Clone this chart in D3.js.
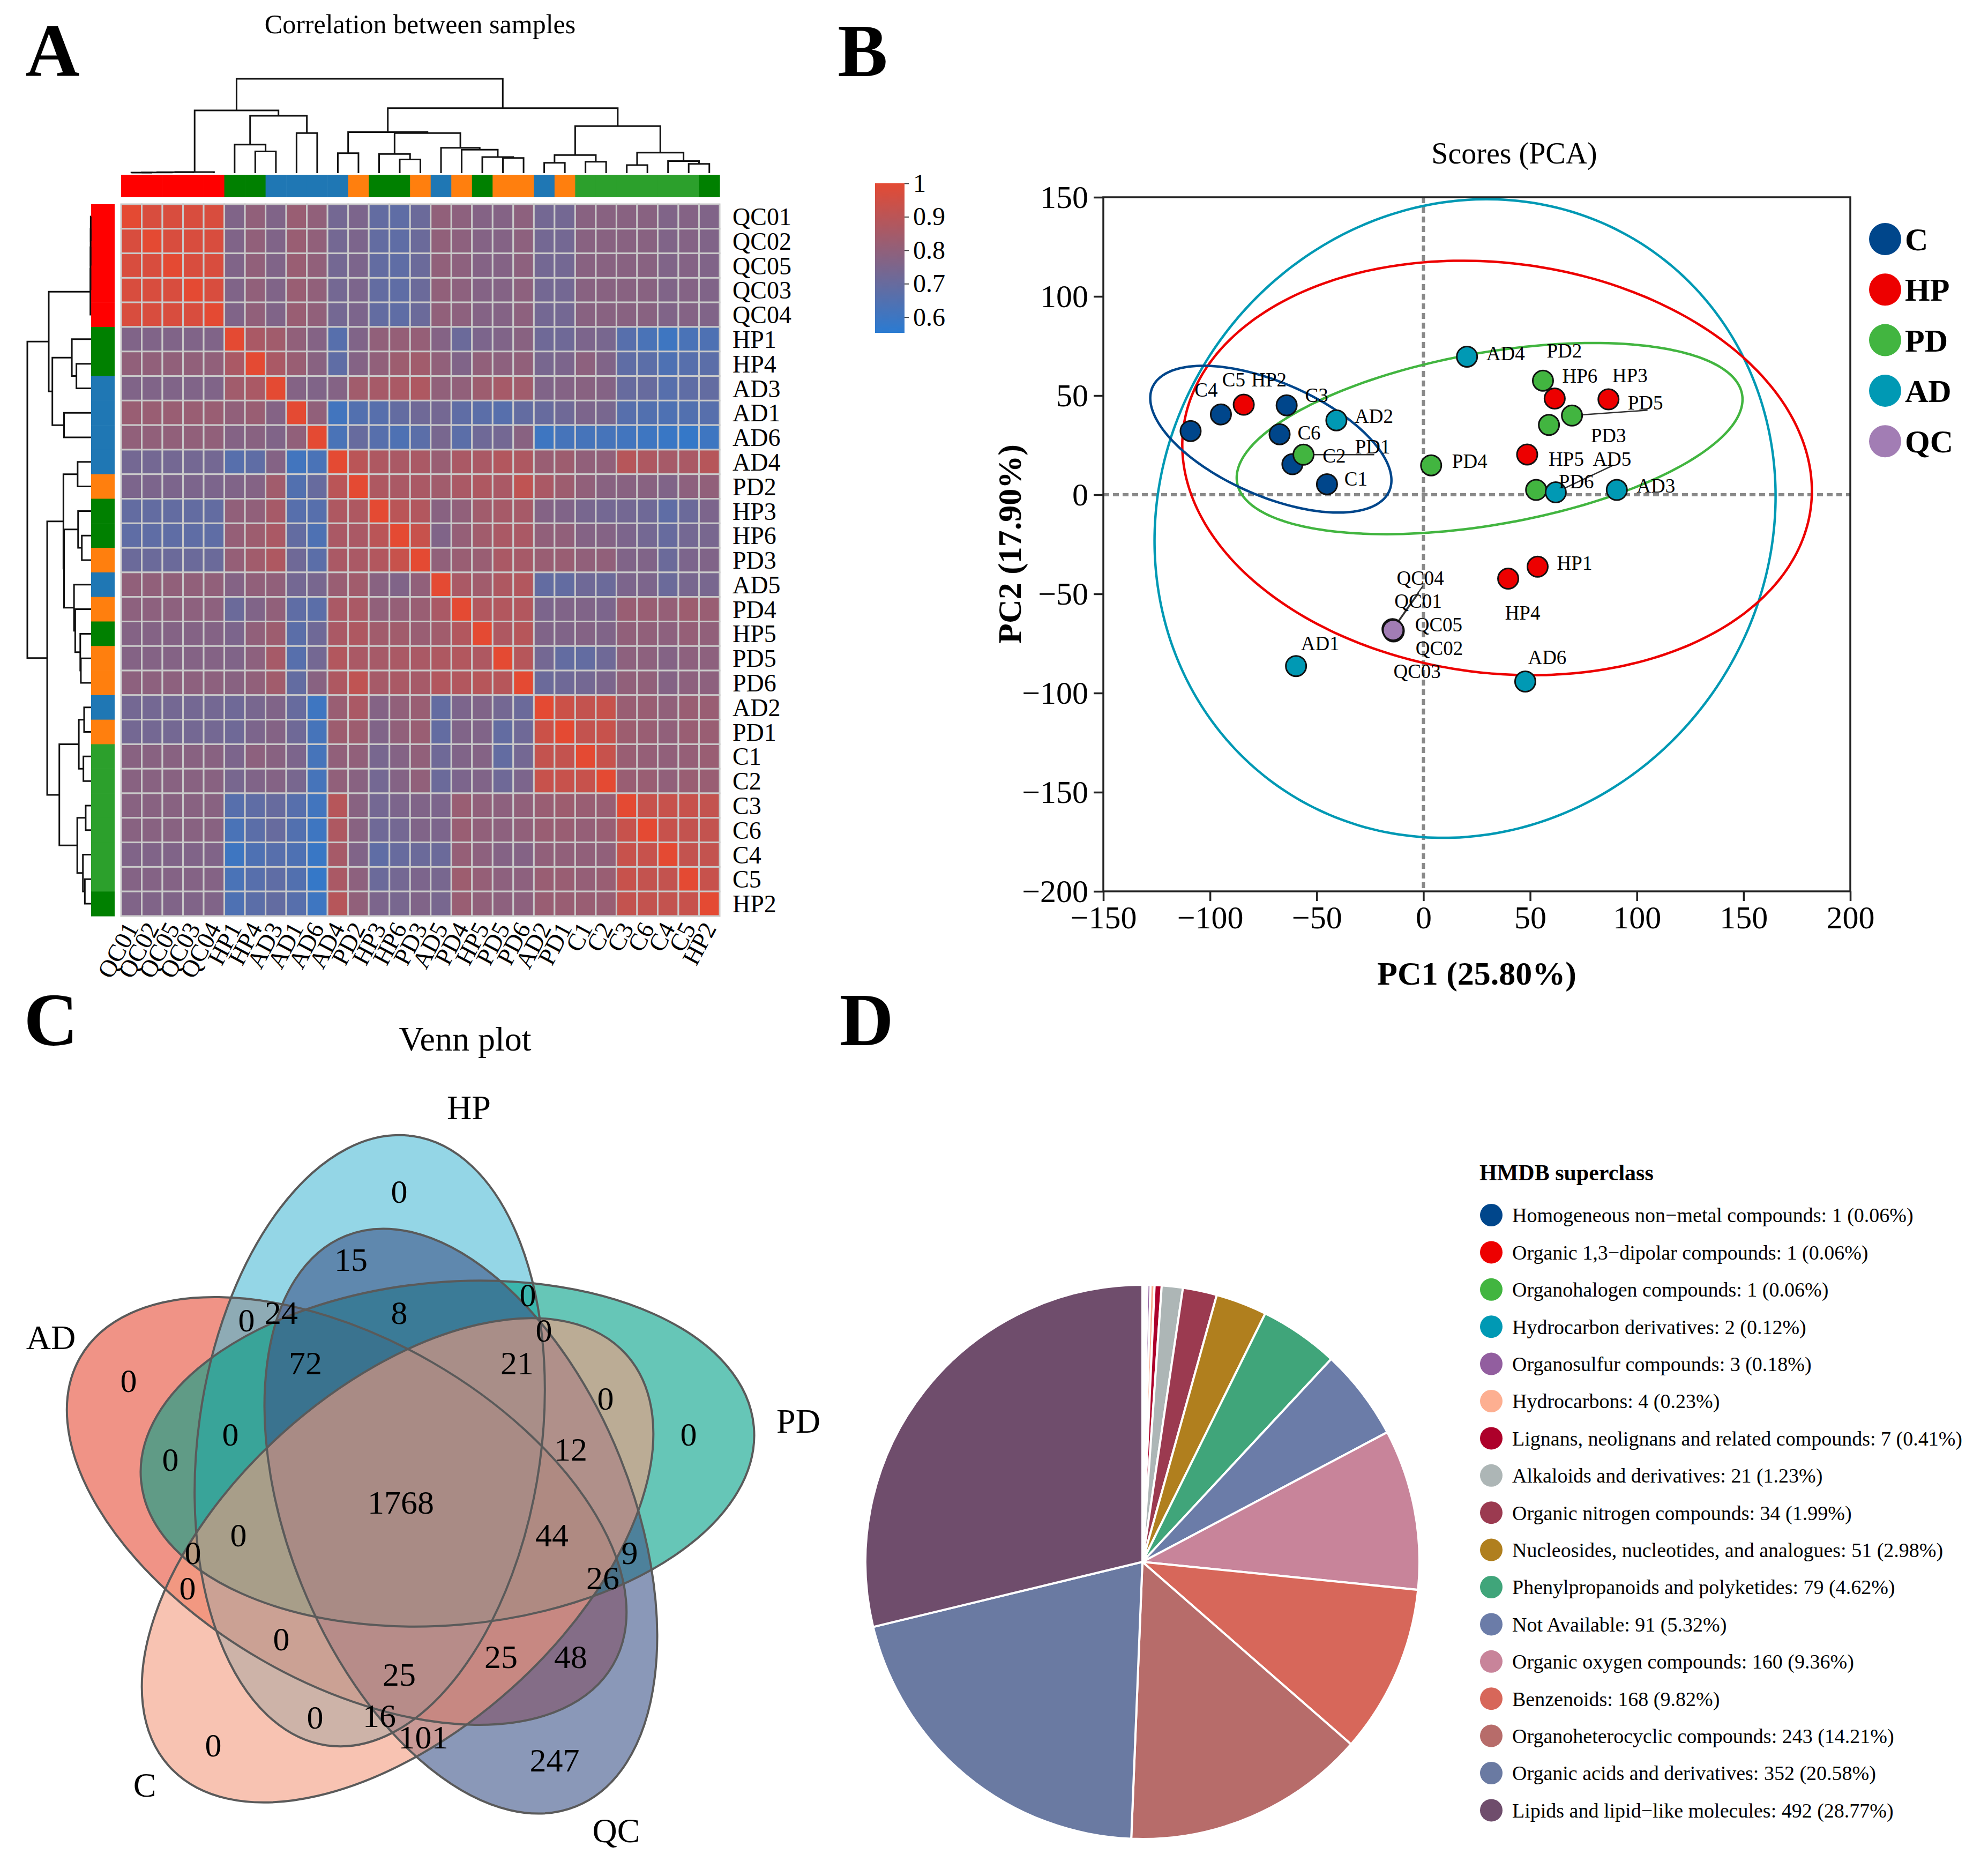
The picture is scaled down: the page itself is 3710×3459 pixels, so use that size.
<!DOCTYPE html>
<html>
<head>
<meta charset="utf-8">
<script src="https://cdn.jsdelivr.net/npm/d3@7"></script>
<style>
  body { margin: 0; background: #fff; }
  svg { display: block; }
  text { font-family: "Liberation Serif", "Times New Roman", serif; fill: #000; }
</style>
</head>
<body>
<svg id="fig"></svg>
<script>
// ================= data =================

// A: correlation between samples (clustered order)
const samples = ["QC01","QC02","QC05","QC03","QC04","HP1","HP4","AD3","AD1","AD6","AD4","PD2","HP3","HP6","PD3",
                 "AD5","PD4","HP5","PD5","PD6","AD2","PD1","C1","C2","C3","C6","C4","C5","HP2"];
const sampleGroup = ["QC","QC","QC","QC","QC","HP","HP","AD","AD","AD","AD","PD","HP","HP","PD",
                     "AD","PD","HP","PD","PD","AD","PD","C","C","C","C","C","C","HP"];
// lower triangle, row i holds columns 0..i-1 (diagonal is 1)
const corrLower = [
  [],
  [0.97],
  [0.97,0.97],
  [0.97,0.97,0.97],
  [0.97,0.97,0.97,0.97],
  [0.76,0.76,0.76,0.76,0.76],
  [0.80,0.80,0.80,0.80,0.80,0.86],
  [0.76,0.76,0.76,0.76,0.76,0.84,0.86],
  [0.82,0.82,0.82,0.82,0.82,0.80,0.82,0.77],
  [0.80,0.80,0.80,0.80,0.80,0.77,0.78,0.76,0.80],
  [0.73,0.73,0.73,0.73,0.73,0.66,0.68,0.77,0.61,0.63],
  [0.75,0.75,0.75,0.75,0.75,0.76,0.77,0.84,0.65,0.70,0.90],
  [0.69,0.69,0.69,0.69,0.69,0.80,0.80,0.85,0.66,0.66,0.87,0.87],
  [0.68,0.68,0.68,0.68,0.68,0.81,0.83,0.86,0.69,0.64,0.86,0.86,0.90],
  [0.71,0.71,0.71,0.71,0.71,0.81,0.84,0.87,0.72,0.67,0.86,0.86,0.88,0.93],
  [0.80,0.80,0.80,0.80,0.80,0.77,0.80,0.80,0.73,0.74,0.82,0.84,0.78,0.76,0.80],
  [0.79,0.79,0.79,0.79,0.79,0.71,0.76,0.80,0.68,0.67,0.86,0.86,0.80,0.81,0.82,0.86],
  [0.77,0.77,0.77,0.77,0.77,0.75,0.80,0.83,0.67,0.72,0.86,0.87,0.84,0.84,0.82,0.84,0.88],
  [0.77,0.77,0.77,0.77,0.77,0.76,0.79,0.85,0.66,0.73,0.88,0.86,0.85,0.86,0.86,0.87,0.88,0.87],
  [0.79,0.79,0.79,0.79,0.79,0.78,0.80,0.84,0.69,0.78,0.87,0.91,0.85,0.86,0.85,0.88,0.88,0.89,0.89],
  [0.73,0.73,0.73,0.73,0.73,0.72,0.74,0.76,0.70,0.60,0.82,0.86,0.77,0.80,0.82,0.69,0.75,0.76,0.73,0.71],
  [0.73,0.73,0.73,0.73,0.73,0.72,0.75,0.77,0.72,0.62,0.83,0.83,0.76,0.80,0.82,0.69,0.76,0.76,0.69,0.72,0.94],
  [0.78,0.78,0.78,0.78,0.78,0.75,0.79,0.78,0.75,0.62,0.80,0.80,0.74,0.77,0.80,0.72,0.76,0.77,0.69,0.73,0.92,0.92],
  [0.78,0.78,0.78,0.78,0.78,0.74,0.76,0.77,0.74,0.62,0.80,0.78,0.73,0.77,0.80,0.71,0.75,0.76,0.72,0.75,0.93,0.93,0.93],
  [0.78,0.78,0.78,0.78,0.78,0.66,0.68,0.70,0.66,0.61,0.89,0.78,0.73,0.75,0.76,0.75,0.82,0.80,0.79,0.80,0.82,0.83,0.82,0.82],
  [0.78,0.78,0.78,0.78,0.78,0.63,0.67,0.70,0.65,0.60,0.87,0.78,0.72,0.73,0.76,0.75,0.82,0.80,0.79,0.80,0.82,0.82,0.81,0.82,0.93],
  [0.76,0.76,0.76,0.76,0.76,0.60,0.64,0.66,0.64,0.59,0.85,0.76,0.68,0.70,0.71,0.71,0.81,0.79,0.77,0.77,0.80,0.80,0.80,0.80,0.93,0.93],
  [0.77,0.77,0.77,0.77,0.77,0.63,0.66,0.68,0.65,0.58,0.86,0.79,0.71,0.73,0.75,0.74,0.83,0.81,0.79,0.79,0.82,0.82,0.81,0.82,0.93,0.92,0.92],
  [0.76,0.76,0.76,0.76,0.76,0.64,0.67,0.69,0.66,0.60,0.89,0.80,0.75,0.74,0.76,0.74,0.82,0.80,0.79,0.79,0.82,0.82,0.82,0.82,0.92,0.92,0.92,0.93]
];
const legendTicks = [1, 0.9, 0.8, 0.7, 0.6];
// clustering tree: [merge height, left, right]
const sampleTree =
  [530,
    [352,
      [6, [5, [4, [3, "QC01", "QC02"], "QC05"], "QC03"], "QC04"],
      [322,
        [160, "HP1", [122, "HP4", "AD3"]],
        [225, "AD1", "AD6"]]],
    [365,
      [230,
        [112, "AD4", "PD2"],
        [225,
          [108, "HP3", [77, "HP6", "PD3"]],
          [142, "AD5", [132, "PD4", [90, "HP5", [85, "PD5", "PD6"]]]]]],
      [264,
        [102, [58, "AD2", "PD1"], [64, "C1", "C2"]],
        [115, [45, "C3", "C6"], [68, "C4", [52, "C5", "HP2"]]]]]];

// B: PCA scores
const pcaNames = ["C1","C2","C3","C4","C5","C6","HP1","HP2","HP3","HP4","HP5","HP6",
                  "PD1","PD2","PD3","PD4","PD5","PD6","AD1","AD2","AD3","AD4","AD5","AD6",
                  "QC01","QC02","QC03","QC04","QC05"];
const pcaGroup = ["C","C","C","C","C","C","HP","HP","HP","HP","HP","HP",
                  "PD","PD","PD","PD","PD","PD","AD","AD","AD","AD","AD","AD",
                  "QC","QC","QC","QC","QC"];
const pc1 = [-45.2,-61.4,-64.1,-109.1,-94.9,-67.4, 53.5,-84.2,86.7,39.7,48.6,61.5,
             -56.2,56.0,58.8,3.6,69.6,52.8, -59.7,-40.8,90.6,20.4,62.0,47.7,
             -14.3,-13.9,-14.0,-14.5,-14.2];
const pc2 = [5.3,15.4,45.1,32.1,40.5,30.5, -36.3,45.4,48.1,-42.3,20.3,48.5,
             20.2,57.5,35.2,14.8,39.9,2.4, -86.4,37.5,2.4,69.6,1.2,-94.2,
             -68.0,-68.6,-68.9,-67.8,-68.3];
const pcaGroups = ["C","HP","PD","AD","QC"];
const xTicks = [-150,-100,-50,0,50,100,150,200];
const yTicks = [-200,-150,-100,-50,0,50,100,150];
// group confidence ellipses (centre, half extents on PC1/PC2, correlation)
const ellGroup = ["AD","HP","PD","C"];
const ellCx  = [19.5, 34.5, 31.0, -71.5];
const ellCy  = [-12.0, 13.5, 28.3, 28.0];
const ellRx  = [145.5, 147.5, 118.5, 56.5];
const ellRy  = [161.0, 104.5, 48.2, 37.0];
const ellRho = [0.07, -0.11, 0.41, -0.56];

// C: Venn counts
const vennSets = ["HP","PD","QC","C","AD"];
const vennCounts = [0,15,0,24,0,8,0,0,72,21,0,0,0,0,12,1768,0,44,0,9,26,0,0,25,48,25,0,16,101,0,247];

// D: HMDB superclass
const hmdbClass = ["Homogeneous non\u2212metal compounds","Organic 1,3\u2212dipolar compounds","Organohalogen compounds",
  "Hydrocarbon derivatives","Organosulfur compounds","Hydrocarbons","Lignans, neolignans and related compounds",
  "Alkaloids and derivatives","Organic nitrogen compounds","Nucleosides, nucleotides, and analogues",
  "Phenylpropanoids and polyketides","Not Available","Organic oxygen compounds","Benzenoids",
  "Organoheterocyclic compounds","Organic acids and derivatives","Lipids and lipid\u2212like molecules"];
const hmdbCount = [1,1,1,2,3,4,7,21,34,51,79,91,160,168,243,352,492];

// ================= layout / style =================
const W = 3710, H = 3459;
const svg = d3.select("#fig").attr("width", W).attr("height", H);
svg.append("rect").attr("width", W).attr("height", H).attr("fill", "#fff");

// panel letters
svg.selectAll("text.panel").data([["A",98,142],["B",1610,142],["C",95,1950],["D",1617,1950]])
  .join("text").attr("class","panel")
  .attr("x", d => d[1]).attr("y", d => d[2]).attr("text-anchor","middle")
  .attr("font-size",140).attr("font-weight","bold").text(d => d[0]);

// ---------- A ----------
const gA = svg.append("g");
const annColor = {QC:"#FF0000", HP:"#008000", AD:"#1F77B4", PD:"#FF7F0E", C:"#2CA02C"};
const hx = d3.scaleBand().domain(samples).range([226, 1343]);
const hy = d3.scaleBand().domain(samples).range([381, 1709]);
const corrColor = d3.scaleLinear().domain([0.553, 1]).range(["#2a7bd2", "#e44a33"]).interpolate(d3.interpolateRgb);
const corrAt = (i, j) => i === j ? 1 : (i > j ? corrLower[i][j] : corrLower[j][i]);
const cells = [];
samples.forEach((r, i) => samples.forEach((c, j) => cells.push({r, c, v: corrAt(i, j)})));

gA.selectAll("rect.cell").data(cells).join("rect").attr("class","cell")
  .attr("x", d => hx(d.c)).attr("y", d => hy(d.r))
  .attr("width", hx.bandwidth()).attr("height", hy.bandwidth())
  .attr("fill", d => corrColor(d.v)).attr("stroke", "#c9c9c9").attr("stroke-width", 3);

// annotation bars
gA.selectAll("rect.cann").data(samples).join("rect").attr("class","cann")
  .attr("x", d => hx(d)).attr("y", 326).attr("width", hx.bandwidth() + 0.6).attr("height", 42)
  .attr("fill", (d, i) => annColor[sampleGroup[i]]);
gA.selectAll("rect.rann").data(samples).join("rect").attr("class","rann")
  .attr("x", 170).attr("y", d => hy(d)).attr("width", 44).attr("height", hy.bandwidth() + 0.6)
  .attr("fill", (d, i) => annColor[sampleGroup[i]]);

// dendrograms
function dendro(g, node, posOf, hs, top) {
  if (typeof node === "string") return {p: posOf(node), h: 0};
  const A = dendro(g, node[1], posOf, hs, top), B = dendro(g, node[2], posOf, hs, top);
  const hp = hs(node[0]);
  const d = top
    ? `M${A.p},${hs(A.h)}V${hp}H${B.p}V${hs(B.h)}`
    : `M${hs(A.h)},${A.p}H${hp}V${B.p}H${hs(B.h)}`;
  g.append("path").attr("d", d).attr("fill","none").attr("stroke","#111").attr("stroke-width",3);
  return {p: (A.p + B.p) / 2, h: node[0]};
}
dendro(gA.append("g"), sampleTree, s => hx(s) + hx.bandwidth() / 2, d3.scaleLinear().domain([0, 530]).range([323, 147]), true);
dendro(gA.append("g"), sampleTree, s => hy(s) + hy.bandwidth() / 2, d3.scaleLinear().domain([0, 530]).range([170, 51]), false);

// labels
gA.selectAll("text.rlab").data(samples).join("text").attr("class","rlab")
  .attr("x", 1367).attr("y", d => hy(d) + hy.bandwidth() / 2).attr("dy","0.35em")
  .attr("font-size", 46).text(d => d);
gA.selectAll("text.clab").data(samples).join("text").attr("class","clab")
  .attr("transform", d => `translate(${hx(d) + hx.bandwidth() / 2},1724) rotate(-62)`)
  .attr("text-anchor","end").attr("dy","0.35em").attr("font-size", 46).text(d => d);

gA.append("text").attr("x", 784).attr("y", 62).attr("text-anchor","middle")
  .attr("font-size", 50).text("Correlation between samples");

// colour legend
const grad = svg.append("defs").append("linearGradient").attr("id","corrGrad")
  .attr("x1",0).attr("y1",1).attr("x2",0).attr("y2",0);
grad.append("stop").attr("offset","0%").attr("stop-color", corrColor(0.553));
grad.append("stop").attr("offset","100%").attr("stop-color", corrColor(1));
const legY = d3.scaleLinear().domain([0.553, 1]).range([621, 342]);
gA.append("rect").attr("x", 1633).attr("y", legY(1)).attr("width", 55).attr("height", legY(0.553) - legY(1))
  .attr("fill","url(#corrGrad)");
const legAxis = gA.append("g").attr("transform","translate(1688,0)")
  .call(d3.axisRight(legY).tickValues(legendTicks).tickFormat(d3.format("~g")).tickSize(8).tickPadding(8));
legAxis.select(".domain").remove();
legAxis.selectAll("text").attr("font-size", 48).attr("font-family", '"Liberation Serif", serif');
legAxis.selectAll("line").attr("stroke","#444").attr("stroke-width",2);

// ---------- B ----------
const gB = svg.append("g");
const pcaColor = {C:"#00468B", HP:"#ED0000", PD:"#42B540", AD:"#0099B4", QC:"#A27DB4"};
const px = d3.scaleLinear().domain([-150, 200]).range([2059, 3453]);
const py = d3.scaleLinear().domain([-200, 150]).range([1663, 368]);

gB.append("line").attr("x1", px(0)).attr("x2", px(0)).attr("y1", py(150)).attr("y2", py(-200))
  .attr("stroke","#8a8a8a").attr("stroke-width",6).attr("stroke-dasharray","11,7");
gB.append("line").attr("x1", px(-150)).attr("x2", px(200)).attr("y1", py(0)).attr("y2", py(0))
  .attr("stroke","#8a8a8a").attr("stroke-width",6).attr("stroke-dasharray","11,7");

const tAngles = d3.range(0, 362, 2).map(a => a * Math.PI / 180);
ellGroup.forEach((g, k) => {
  const phi = Math.acos(ellRho[k]);
  const line = d3.line()
    .x(t => px(ellCx[k] + ellRx[k] * Math.cos(t)))
    .y(t => py(ellCy[k] + ellRy[k] * Math.cos(t - phi)))
    .curve(d3.curveCatmullRomClosed);
  gB.append("path").attr("d", line(tAngles.slice(0, -1))).attr("fill","none")
    .attr("stroke", pcaColor[g]).attr("stroke-width", 4.5);
});

gB.append("rect").attr("x", px(-150)).attr("y", py(150)).attr("width", px(200) - px(-150))
  .attr("height", py(-200) - py(150)).attr("fill","none").attr("stroke","#222").attr("stroke-width",3.5);

const xAx = gB.append("g").attr("transform", `translate(0,${py(-200)})`)
  .call(d3.axisBottom(px).tickValues(xTicks).tickSize(18).tickSizeOuter(0).tickPadding(8));
const yAx = gB.append("g").attr("transform", `translate(${px(-150)},0)`)
  .call(d3.axisLeft(py).tickValues(yTicks).tickSize(18).tickSizeOuter(0).tickPadding(10));
[xAx, yAx].forEach(a => {
  a.select(".domain").remove();
  a.selectAll("line").attr("stroke","#222").attr("stroke-width",3.5);
  a.selectAll("text").attr("font-size",60).attr("font-family",'"Liberation Serif", serif').attr("fill","#000");
});

const pts = pcaNames.map((n, i) => ({n, g: pcaGroup[i], x: px(pc1[i]), y: py(pc2[i])}));

// label placement (pixel offsets from the point) and leader lines
const labelOffset = {
  C1:[54,-10], C2:[78,-16], C3:[56,-19], C4:[29,-77], C5:[24,-65], C6:[55,-3],
  HP1:[69,-7], HP2:[47,-47], HP3:[40,-45], HP4:[27,64], HP5:[73,8], HP6:[47,-43],
  PD1:[129,-15], PD2:[40,-56], PD3:[111,19], PD4:[72,-8], PD5:[137,-24], PD6:[75,-16],
  AD1:[45,-43], AD2:[70,-8], AD3:[73,-8], AD4:[72,-6], AD5:[105,-63], AD6:[41,-45],
  QC01:[47,-54], QC02:[85,32], QC03:[44,74], QC04:[52,-96], QC05:[85,-11]
};
const leader = {PD1:[132,0], PD5:[141,-10], AD5:[106,-50], QC04:[57,-81], QC01:[48,-68]};

gB.selectAll("line.lead").data(pts.filter(p => leader[p.n])).join("line").attr("class","lead")
  .attr("x1", p => p.x).attr("y1", p => p.y)
  .attr("x2", p => p.x + leader[p.n][0]).attr("y2", p => p.y + leader[p.n][1])
  .attr("stroke","#333").attr("stroke-width",2.5);

gB.selectAll("circle.pt").data(pts).join("circle").attr("class","pt")
  .attr("cx", p => p.x).attr("cy", p => p.y).attr("r", 19)
  .attr("fill", p => pcaColor[p.g]).attr("stroke","#111").attr("stroke-width",3);

gB.selectAll("text.plab").data(pts).join("text").attr("class","plab")
  .attr("x", p => p.x + labelOffset[p.n][0]).attr("y", p => p.y + labelOffset[p.n][1])
  .attr("dy","0.35em").attr("text-anchor","middle").attr("font-size",37).attr("fill","#222").text(p => p.n);

gB.append("text").attr("x", 2826).attr("y", 305).attr("text-anchor","middle").attr("font-size",56)
  .text("Scores (PCA)");
gB.append("text").attr("x", 2756).attr("y", 1837).attr("text-anchor","middle").attr("font-size",62)
  .attr("font-weight","bold").text("PC1 (25.80%)");
gB.append("text").attr("transform", "translate(1905,1015) rotate(-90)").attr("text-anchor","middle")
  .attr("font-size",62).attr("font-weight","bold").text("PC2 (17.90%)");

const legB = gB.append("g");
legB.selectAll("circle").data(pcaGroups).join("circle")
  .attr("cx", 3518).attr("cy", (d, i) => 446 + i * 94.3).attr("r", 30).attr("fill", d => pcaColor[d]);
legB.selectAll("text").data(pcaGroups).join("text")
  .attr("x", 3555).attr("y", (d, i) => 446 + i * 94.3).attr("dy","0.35em")
  .attr("font-size",60).attr("font-weight","bold").text(d => d);

// ---------- C ----------
const gC = svg.append("g");
const vennFill = {HP:"#4DBBD5", PD:"#00A087", QC:"#3C5488", C:"#F39B7F", AD:"#E64B35"};
const vennGeom = {HP:[690,2688,-82], PD:[835,2712,-5], QC:[860,2838,68], C:[742,2911,138], AD:[647,2819,210]};
const vennRx = 574, vennRy = 320;
const drawOrder = ["AD","HP","PD","QC","C"];
gC.selectAll("ellipse.vf").data(drawOrder).join("ellipse").attr("class","vf")
  .attr("rx", vennRx).attr("ry", vennRy)
  .attr("transform", s => `translate(${vennGeom[s][0]},${vennGeom[s][1]}) rotate(${vennGeom[s][2]})`)
  .attr("fill", s => vennFill[s]).attr("fill-opacity", 0.6);
gC.selectAll("ellipse.vs").data(drawOrder).join("ellipse").attr("class","vs")
  .attr("rx", vennRx).attr("ry", vennRy)
  .attr("transform", s => `translate(${vennGeom[s][0]},${vennGeom[s][1]}) rotate(${vennGeom[s][2]})`)
  .attr("fill","none").attr("stroke","#5a5a5a").attr("stroke-width",4);

const countPos = [[745,2222],[655,2349],[985,2415],[525,2448],[460,2462],[745,2448],[1015,2481],[240,2575],
  [570,2542],[965,2542],[1130,2608],[1285,2675],[430,2675],[318,2722],[1065,2703],[748,2802],[445,2863],
  [1030,2863],[360,2896],[1175,2896],[1125,2943],[350,2962],[525,3057],[935,3090],[1065,3090],[745,3123],
  [588,3203],[708,3200],[790,3240],[398,3255],[1035,3283]];
gC.selectAll("text.cnt").data(vennCounts).join("text").attr("class","cnt")
  .attr("x", (d, i) => countPos[i][0]).attr("y", (d, i) => countPos[i][1]).attr("dy","0.35em")
  .attr("text-anchor","middle").attr("font-size",62).text(d => d);

const setLabelPos = {HP:[875,2066], PD:[1490,2651], QC:[1150,3415], C:[270,3330], AD:[95,2495]};
gC.selectAll("text.setlab").data(vennSets).join("text").attr("class","setlab")
  .attr("x", s => setLabelPos[s][0]).attr("y", s => setLabelPos[s][1]).attr("dy","0.35em")
  .attr("text-anchor","middle").attr("font-size",64).text(s => s);
gC.append("text").attr("x", 868).attr("y", 1960).attr("text-anchor","middle").attr("font-size",64)
  .text("Venn plot");

// ---------- D ----------
const gD = svg.append("g");
const hmdbColor = ["#00468B","#ED0000","#42B540","#0099B4","#925E9F","#FDAF91","#AD002A","#ADB6B6",
  "#9B3A50","#B07F1E","#40A57A","#6B7CA8","#C8849A","#D7675A","#B76C6A","#6A7AA2","#6F4D6C"];
const total = d3.sum(hmdbCount);
const arcs = d3.pie().sort(null).value(d => d)(hmdbCount);
const arc = d3.arc().innerRadius(0).outerRadius(517);
gD.append("g").attr("transform","translate(2132,2914)")
  .selectAll("path").data(arcs).join("path")
  .attr("d", arc).attr("fill", (d, i) => hmdbColor[i]).attr("stroke","#fff").attr("stroke-width",4);

gD.append("text").attr("x", 2761).attr("y", 2187).attr("dy","0.35em").attr("font-size",42)
  .attr("font-weight","bold").text("HMDB superclass");
const legD = gD.append("g");
const fmt = d3.format(".2f");
legD.selectAll("circle").data(hmdbClass).join("circle")
  .attr("cx", 2783).attr("cy", (d, i) => 2267 + i * 69.4).attr("r", 21)
  .attr("fill", (d, i) => hmdbColor[i]);
legD.selectAll("text").data(hmdbClass).join("text")
  .attr("x", 2822).attr("y", (d, i) => 2267 + i * 69.4).attr("dy","0.35em").attr("font-size",38)
  .text((d, i) => `${d}: ${hmdbCount[i]} (${fmt(hmdbCount[i] / total * 100)}%)`);
</script>
</body>
</html>
